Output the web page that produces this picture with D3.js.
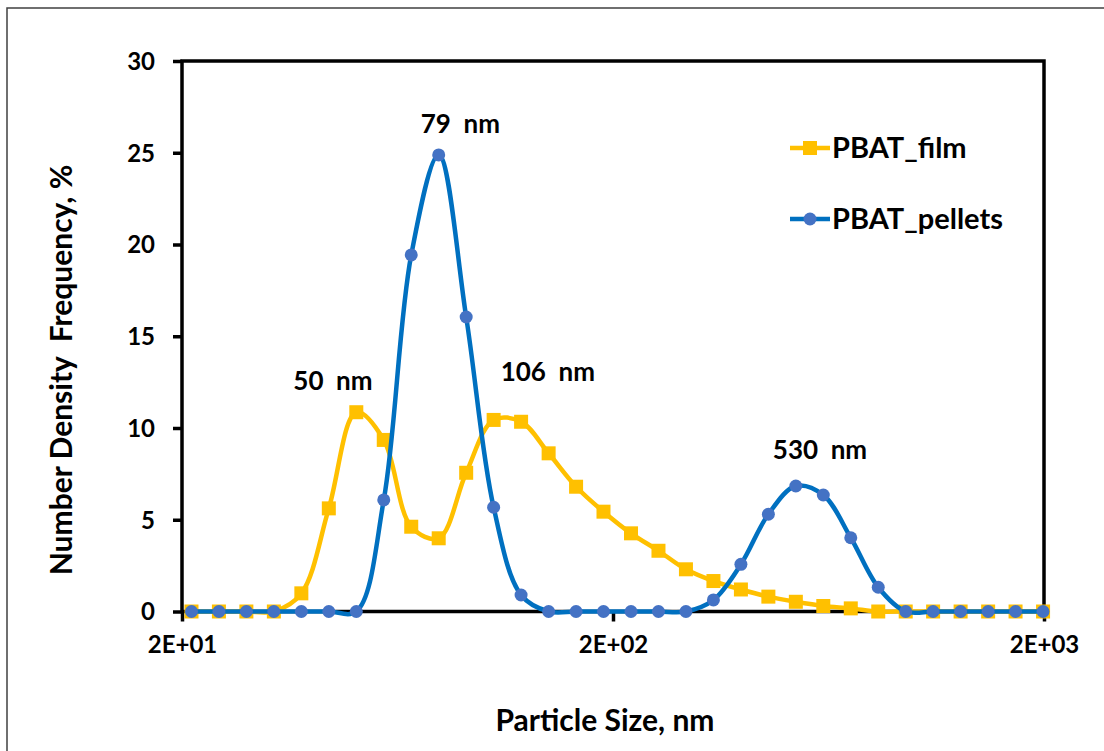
<!DOCTYPE html>
<html>
<head>
<meta charset="utf-8">
<script src="https://cdn.jsdelivr.net/npm/d3@7"></script>
<style>
  html, body { margin: 0; padding: 0; background: #fff; }
  svg { display: block; }
  text { font-family: Lato, "Noto Sans", sans-serif; font-weight: bold; fill: #000; white-space: pre; }
</style>
</head>
<body>
<svg id="chart" width="1104" height="751"></svg>
<script>
// Particle size bins (nm), standard logarithmic DLS classes
const sizes = [21.04, 24.36, 28.21, 32.67, 37.84, 43.82, 50.75, 58.77, 68.06, 78.82,
               91.28, 105.7, 122.4, 141.8, 164.2, 190.1, 220.2, 255.0, 295.3, 342.0,
               396.1, 458.7, 531.2, 615.1, 712.4, 825.0, 955.4, 1106, 1281, 1484, 1718, 1990];

// Number density frequency, %
const film = [0, 0, 0, 0, 0.99, 5.62, 10.86, 9.35, 4.62, 3.99,
              7.56, 10.44, 10.34, 8.62, 6.80, 5.44, 4.26, 3.31, 2.30, 1.66,
              1.20, 0.81, 0.53, 0.30, 0.17, 0, 0, 0, 0, 0, 0, 0];
const pellets = [0, 0, 0, 0, 0, 0, 0, 6.08, 19.43, 24.88,
                 16.05, 5.68, 0.90, 0, 0, 0, 0, 0, 0, 0.63,
                 2.57, 5.30, 6.84, 6.35, 4.02, 1.32, 0, 0, 0, 0, 0, 0];

const seriesNames = ["PBAT_film", "PBAT_pellets"];
const yTicks = [0, 5, 10, 15, 20, 25, 30];
const xTicks = [20, 200, 2000];
const xTickLabels = ["2E+01", "2E+02", "2E+03"];

// Peak annotations: index of the labelled bin in each series and its text
const peakLabels = [
  { series: "film",    index: 6,  text: "50  nm" },
  { series: "pellets", index: 9,  text: "79  nm" },
  { series: "film",    index: 11, text: "106  nm" },
  { series: "pellets", index: 22, text: "530  nm" }
];

const svg = d3.select("#chart");
const W = 1104, H = 751;
const plot = { left: 182, right: 1044, top: 61, bottom: 611.5 };

const x = d3.scaleLog().domain([20, 2000]).range([plot.left, plot.right]);
const y = d3.scaleLinear().domain([0, 30]).range([plot.bottom, plot.top]);

// Outer chart frame
svg.append("rect")
  .attr("x", 7).attr("y", 8)
  .attr("width", W + 20).attr("height", H + 20)
  .attr("fill", "none").attr("stroke", "#404040").attr("stroke-width", 1.5);

const axisColor = "#000";
const axisWidth = 3.5;

// Y axis with ticks and labels
const yAxis = d3.axisLeft(y).tickValues(yTicks).tickSize(9).tickPadding(18).tickFormat(d3.format("d"));
const gy = svg.append("g").attr("transform", `translate(${plot.left},0)`).call(yAxis);
gy.select(".domain").remove();
gy.selectAll(".tick line").attr("stroke", axisColor).attr("stroke-width", axisWidth);
gy.selectAll(".tick text").attr("font-size", 24).attr("font-family", null).attr("dy", "0.35em");

// X axis with ticks and labels
const xAxis = d3.axisBottom(x).tickValues(xTicks).tickSize(10).tickPadding(14)
  .tickFormat((d, i) => xTickLabels[i]);
const gx = svg.append("g").attr("transform", `translate(0,${plot.bottom})`).call(xAxis);
gx.select(".domain").remove();
gx.selectAll(".tick line").attr("stroke", axisColor).attr("stroke-width", axisWidth);
gx.selectAll(".tick text").attr("font-size", 24).attr("font-family", null);

// Plot frame on all four sides
svg.append("rect")
  .attr("x", plot.left).attr("y", plot.top)
  .attr("width", plot.right - plot.left).attr("height", plot.bottom - plot.top)
  .attr("fill", "none").attr("stroke", axisColor).attr("stroke-width", axisWidth);

// Axis titles
svg.append("text")
  .attr("x", 605).attr("y", 731)
  .attr("text-anchor", "middle").attr("font-size", 30)
  .text("Particle Size, nm");

svg.append("text")
  .attr("transform", `translate(72,370) rotate(-90)`)
  .attr("text-anchor", "middle").attr("font-size", 30)
  .text("Number Density  Frequency, %");

// Series
const series = [
  { key: "film",    name: seriesNames[0], values: film,    line: "#FFC000", marker: "#FFC000", shape: "square" },
  { key: "pellets", name: seriesNames[1], values: pellets, line: "#0070C0", marker: "#4472C4", shape: "circle" }
];

const line = d3.line()
  .x(d => x(d.size))
  .y(d => y(d.value))
  .curve(d3.curveCatmullRom.alpha(0.5));

function drawMarker(g, shape, color, cx, cy) {
  if (shape === "square") {
    g.append("rect")
      .attr("x", cx - 7).attr("y", cy - 7).attr("width", 14).attr("height", 14)
      .attr("fill", color);
  } else {
    g.append("circle").attr("cx", cx).attr("cy", cy).attr("r", 6.5).attr("fill", color);
  }
}

series.forEach(s => {
  const pts = sizes.map((sz, i) => ({ size: sz, value: s.values[i] }));
  const g = svg.append("g").attr("class", "series-" + s.key);
  g.append("path")
    .datum(pts)
    .attr("d", line)
    .attr("fill", "none")
    .attr("stroke", s.line)
    .attr("stroke-width", 4.5)
    .attr("stroke-linejoin", "round");
  pts.forEach(p => drawMarker(g, s.shape, s.marker, x(p.size), y(p.value)));
});

// Legend
const legendRows = [
  { s: series[0], ly: 148 },
  { s: series[1], ly: 219 }
];
legendRows.forEach(r => {
  const g = svg.append("g");
  g.append("line")
    .attr("x1", 790).attr("x2", 830).attr("y1", r.ly).attr("y2", r.ly)
    .attr("stroke", r.s.line).attr("stroke-width", 4.5);
  drawMarker(g, r.s.shape, r.s.marker, 810, r.ly);
  g.append("text")
    .attr("x", 832).attr("y", r.ly + 10)
    .attr("font-size", 29)
    .text(r.s.name);
});

// Peak labels, placed relative to the labelled point
const labelOffsets = {
  "50  nm":  [-63, -22],
  "79  nm":  [-18, -22],
  "106  nm": [7, -39],
  "530  nm": [-23, -27]
};
peakLabels.forEach(p => {
  const vals = p.series === "film" ? film : pellets;
  const px = x(sizes[p.index]);
  const py = y(vals[p.index]);
  const [dx, dy] = labelOffsets[p.text];
  svg.append("text")
    .attr("x", px + dx).attr("y", py + dy)
    .attr("font-size", 26)
    .text(p.text);
});
</script>
</body>
</html>
